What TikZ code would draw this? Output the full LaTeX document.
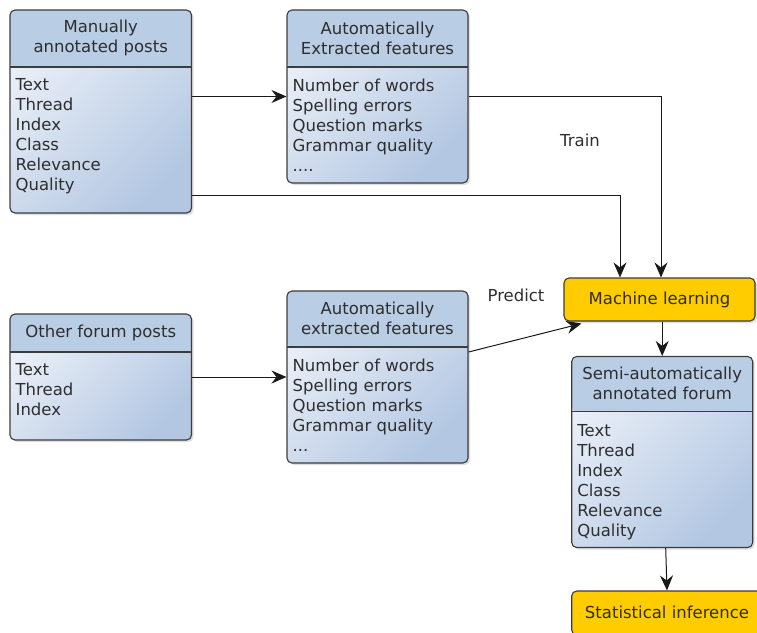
\documentclass[tikz,border=0pt]{standalone}
\usepackage{fontspec}
\setmainfont{DejaVu Sans}
\usetikzlibrary{arrows.meta,shadows}
\definecolor{boxline}{HTML}{3C3C3C}
\definecolor{boxhead}{HTML}{B9CDE5}
\definecolor{boxlight}{HTML}{EBF0F8}
\definecolor{boxdark}{HTML}{B3C7E2}
\definecolor{mlyellow}{HTML}{FFCC00}
\definecolor{txt}{HTML}{2E2E2E}
\begin{document}
\begin{tikzpicture}[x=1pt, y=-1pt,
    every node/.style={font=\fontsize{16.5}{20}\selectfont, text=txt},
    box/.style={draw=boxline, line width=1.1pt, rounded corners=5pt,
      top color=boxlight, bottom color=boxdark, shading angle=45,
      drop shadow={opacity=0.25, shadow xshift=2pt, shadow yshift=-2pt},
      path picture={
        \fill[boxhead] (path picture bounding box.north west) rectangle ([yshift=-#1pt]path picture bounding box.north east);
        \draw[boxline, line width=1.1pt] ([yshift=-#1pt]path picture bounding box.north west) -- ([yshift=-#1pt]path picture bounding box.north east);
      }},
    stepyellow/.style={draw=boxline, line width=1.1pt, rounded corners=5pt, fill=mlyellow,
      drop shadow={opacity=0.25, shadow xshift=2pt, shadow yshift=-2pt}},
    headtxt/.style={align=center, inner sep=0pt},
    bodytxt/.style={align=left, anchor=north west, inner sep=0pt},
    arr/.style={-{Stealth[length=15pt, width=13pt, inset=5pt]}, line width=1pt, draw=black!90}]
  \useasboundingbox (0,0) rectangle (757,632);
  \clip (0,0) rectangle (757,632);

  % training data
  \node[box=57, minimum width=181.5pt, minimum height=203pt] (manual) at (100.75,111.5) {};
  \node[headtxt] (manualhead) at ([yshift=-28.5pt]manual.north) {Manually\\annotated posts};
  \node[bodytxt] (manualbody) at ([xshift=6pt, yshift=-69pt]manual.north west) {Text\\Thread\\Index\\Class\\Relevance\\Quality};

  \node[box=57, minimum width=181pt, minimum height=173pt] (featA) at (377.5,96.5) {};
  \node[headtxt] (featAhead) at ([yshift=-28.5pt]featA.north) {Automatically\\Extracted features};
  \node[bodytxt] (featAbody) at ([xshift=6pt, yshift=-69pt]featA.north west) {Number of words\\Spelling errors\\Question marks\\Grammar quality\\....};

  % new data
  \node[box=38, minimum width=181.5pt, minimum height=126pt] (other) at (100.75,377) {};
  \node[headtxt] (otherhead) at ([yshift=-19pt]other.north) {Other forum posts};
  \node[bodytxt] (otherbody) at ([xshift=6pt, yshift=-50pt]other.north west) {Text\\Thread\\Index};

  \node[box=56, minimum width=181pt, minimum height=172pt] (featB) at (377.5,377) {};
  \node[headtxt] (featBhead) at ([yshift=-28pt]featB.north) {Automatically\\extracted features};
  \node[bodytxt] (featBbody) at ([xshift=6pt, yshift=-68pt]featB.north west) {Number of words\\Spelling errors\\Question marks\\Grammar quality\\...};

  % output
  \node[stepyellow, minimum width=191pt, minimum height=43pt] (ml) at (659.5,299.5) {Machine learning};

  \node[box=55, minimum width=181pt, minimum height=191pt] (semi) at (662.2,452) {};
  \node[headtxt] (semihead) at ([yshift=-27.5pt]semi.north) {Semi-automatically\\annotated forum};
  \node[bodytxt] (semibody) at ([xshift=6pt, yshift=-68pt]semi.north west) {Text\\Thread\\Index\\Class\\Relevance\\Quality};

  \node[stepyellow, minimum width=200pt, minimum height=44pt] (stat) at (671.7,613) {};
  \node (stattxt) at (667,612) {Statistical inference};

  \node (train) at (580,140) {Train};
  \node (predict) at (516,295) {Predict};

  \draw[arr] (manual.east |- featA.west) -- (featA.west);
  \draw[arr] (featA.east) -| ([xshift=1.5pt]ml.north);
  \draw[arr] ([yshift=-84.2pt]manual.east) -| ([xshift=-39.5pt]ml.north);
  \draw[arr] (other.east) -- (featB.west);
  \draw[arr] ([yshift=25pt]featB.east) -- ([xshift=18pt, yshift=-2pt]ml.south west);
  \draw[arr] (ml.south -| semi.north) -- (semi.north);
  \draw[arr] ([xshift=3.5pt]semi.south) -- ([xshift=-4.7pt]stat.north);
\end{tikzpicture}
\end{document}
